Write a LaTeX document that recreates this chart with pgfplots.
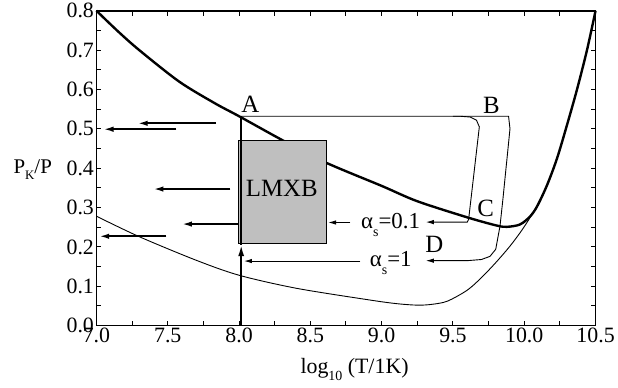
\documentclass[border=0pt]{standalone}
\usepackage{fontspec}
\setmainfont{Liberation Serif}
\usepackage{pgfplots}
\pgfplotsset{compat=1.18}
\usetikzlibrary{arrows.meta}
\newcommand{\fs}[1]{\fontsize{#1}{#1}\selectfont}
\newcommand{\tl}[1]{{\fontsize{22}{22}\selectfont #1}}
\begin{document}
\begin{tikzpicture}
\begin{axis}[name=ax, scale only axis, width=502pt, height=316.7pt,
  xmin=7, xmax=10.5, ymin=0, ymax=0.8,
  xtick={7,7.5,8,8.5,9,9.5,10,10.5},
  xticklabels={\tl{7.0},\tl{7.5},\tl{8.0},\tl{8.5},\tl{9.0},\tl{9.5},\tl{10.0},\tl{10.5}},
  ytick={0,0.1,0.2,0.3,0.4,0.5,0.6,0.7,0.8},
  yticklabels={\tl{0.0},\tl{0.1},\tl{0.2},\tl{0.3},\tl{0.4},\tl{0.5},\tl{0.6},\tl{0.7},\tl{0.8}},
  minor x tick num=1, minor y tick num=1,
  tick align=inside,
  major tick length=5pt, minor tick length=5pt,
  every tick/.style={black, line width=1pt},
  axis line style={line width=1.6pt},
  xticklabel style={yshift=1pt},
  yticklabel style={xshift=1pt},
  clip=false,
]
% thick curve
\addplot[line width=2.4pt, smooth, tension=0.5] coordinates {
(7.0,0.80) (7.15,0.748) (7.30,0.70) (7.58,0.62) (7.83,0.565) (8.0,0.532) (8.31,0.47) (8.61,0.414) (9.0,0.355) (9.25,0.316) (9.61,0.274) (9.81,0.254) (9.88,0.251) (9.97,0.257) (10.04,0.277) (10.09,0.303) (10.16,0.357) (10.23,0.425) (10.30,0.51) (10.37,0.60) (10.44,0.70) (10.5,0.80)};
% thin lower curve
\addplot[line width=0.9pt, smooth, tension=0.5] coordinates {
(7.0,0.278) (7.3,0.226) (7.7,0.166) (8.0,0.128) (8.4,0.095) (8.9,0.066) (9.1,0.056) (9.25,0.052) (9.35,0.054) (9.46,0.062) (9.6,0.09) (9.7,0.122) (9.8,0.16) (9.9,0.202) (9.99,0.246) (10.09,0.303) (10.12,0.325)};
% LMXB box
\addplot[fill=gray!50, draw=black, line width=0.9pt] coordinates {(7.995,0.208) (8.61,0.208) (8.61,0.47) (7.995,0.47)} -- cycle;
% vertical track
\addplot[line width=2.2pt, -{Latex[length=12pt,width=6pt]}] coordinates {(8.015,0) (8.015,0.207)};
\addplot[line width=2.2pt] coordinates {(8.015,0.205) (8.015,0.532)};
% alpha_s = 0.1 track
\addplot[line width=0.9pt, -{Latex[length=8pt,width=4.5pt]}] coordinates {
(8.015,0.532) (9.55,0.532) (9.62,0.530) (9.665,0.522) (9.685,0.505) (9.61,0.27) (9.60,0.263) (9.31,0.263)};
\addplot[line width=0.9pt, -{Latex[length=8pt,width=4.5pt]}] coordinates {(8.78,0.262) (8.625,0.262)};
% alpha_s = 1 track
\addplot[line width=0.9pt, -{Latex[length=8pt,width=4.5pt]}] coordinates {
(9.5,0.532) (9.89,0.532) (9.90,0.50) (9.85,0.32) (9.83,0.253) (9.80,0.194) (9.76,0.176) (9.70,0.168) (9.60,0.165) (9.31,0.165)};
\addplot[line width=0.9pt, -{Latex[length=8pt,width=4.5pt]}] coordinates {(8.85,0.164) (8.035,0.164)};
% left arrows
\addplot[line width=1.8pt, -{Latex[length=10pt,width=5.5pt]}] coordinates {(7.84,0.514) (7.29,0.514)};
\addplot[line width=1.8pt, -{Latex[length=10pt,width=5.5pt]}] coordinates {(7.56,0.499) (7.05,0.499)};
\addplot[line width=1.8pt, -{Latex[length=10pt,width=5.5pt]}] coordinates {(7.94,0.347) (7.40,0.347)};
\addplot[line width=1.8pt, -{Latex[length=10pt,width=5.5pt]}] coordinates {(7.995,0.258) (7.60,0.258)};
\addplot[line width=1.8pt, -{Latex[length=10pt,width=5.5pt]}] coordinates {(7.49,0.227) (7.02,0.227)};
% labels
\node[font=\fs{25}] at (axis cs:8.08,0.562) {A};
\node[font=\fs{25}] at (axis cs:9.77,0.560) {B};
\node[font=\fs{25}] at (axis cs:9.73,0.299) {C};
\node[font=\fs{25}] at (axis cs:9.37,0.206) {D};
\node[font=\fs{25}] at (axis cs:8.30,0.348) {LMXB};
\node[font=\fs{23}, anchor=base west, inner sep=0pt] at (axis cs:8.855,0.247) {α\raisebox{-0.35em}{\fs{14}s}=0.1};
\node[font=\fs{23}, anchor=base west, inner sep=0pt] at (axis cs:8.916,0.150) {α\raisebox{-0.35em}{\fs{14}s}=1};
\node[font=\fs{21}, anchor=base west, inner sep=0pt] at (axis cs:6.417,0.387) {P\raisebox{-0.3em}{\fs{13}K}/P};
\node[font=\fs{22}, anchor=base, inner sep=0pt] at (axis cs:8.81,-0.122) {log\raisebox{-0.3em}{\fs{14}10} (T/1K)};
\end{axis}
\path (ax.south west) ++(-97pt,-62.3pt) rectangle ++(618pt,389pt);
\end{tikzpicture}
\end{document}
